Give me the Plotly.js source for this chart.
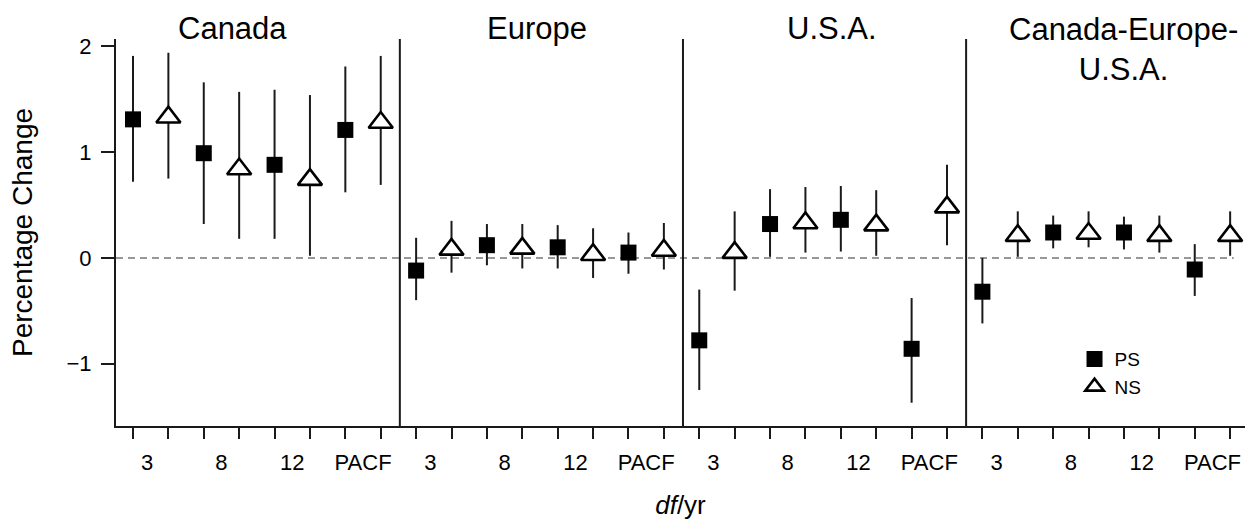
<!DOCTYPE html>
<html>
<head>
<meta charset="utf-8">
<script src="https://cdn.plot.ly/plotly-3.0.1.min.js"></script>
<style>html,body{margin:0;padding:0;background:#fff;}#chart{width:1251px;height:520px;}</style>
</head>
<body>
<div id="chart"></div>
<script>
// ---- data ----
const regions = ['Canada', 'Europe', 'U.S.A.', 'Canada-Europe-<br>U.S.A.'];
const dfLabels = ['3', '8', '12', 'PACF'];

// PS (filled squares): estimate, upper and lower limits, region by region
const psValues = [1.31, 0.99, 0.88, 1.21,  -0.12, 0.12, 0.10, 0.05,  -0.78, 0.32, 0.36, -0.86,  -0.32, 0.24, 0.24, -0.11];
const psUpper  = [1.91, 1.66, 1.59, 1.81,   0.19, 0.32, 0.31, 0.24,  -0.30, 0.65, 0.68, -0.38,   0.00, 0.40, 0.39, 0.13];
const psLower  = [0.72, 0.32, 0.18, 0.62,  -0.40, -0.07, -0.10, -0.15, -1.25, 0.01, 0.06, -1.37, -0.62, 0.09, 0.08, -0.36];

// NS (open triangles)
const nsValues = [1.33, 0.84, 0.74, 1.28,   0.08, 0.09, 0.03, 0.07,   0.05, 0.33, 0.31, 0.48,   0.21, 0.23, 0.21, 0.21];
const nsUpper  = [1.94, 1.57, 1.54, 1.91,   0.35, 0.32, 0.28, 0.33,   0.44, 0.67, 0.64, 0.88,   0.44, 0.44, 0.40, 0.44];
const nsLower  = [0.75, 0.18, 0.02, 0.69,  -0.14, -0.10, -0.19, -0.11, -0.31, 0.05, 0.02, 0.12,   0.01, 0.10, 0.05, 0.02];

const yTickVals = [-1, 0, 1, 2];

// ---- derived positions (slot index along the shared x axis) ----
const nL = dfLabels.length;
const slotsPerRegion = nL * 2;
const psX = [], nsX = [];
regions.forEach((r, ri) => dfLabels.forEach((l, li) => {
  psX.push(ri * slotsPerRegion + li * 2);
  nsX.push(ri * slotsPerRegion + li * 2 + 1);
}));
const tickPos = psX.concat(nsX).sort((a, b) => a - b);
const labelPos = [], labelText = [];
regions.forEach((r, ri) => dfLabels.forEach((l, li) => {
  labelPos.push(ri * slotsPerRegion + li * 2 + (li === 0 ? 0.4 : 0.5));
  labelText.push(l);
}));

const ink = '#1a1a1a';
const font = 'Liberation Sans, Arial, Helvetica, sans-serif';

const psTrace = {
  x: psX, y: psValues, type: 'scatter', mode: 'markers', name: 'PS',
  marker: {symbol: 'square', size: 16, color: '#000', line: {width: 0}},
  error_y: {type: 'data', symmetric: false,
    array: psUpper.map((u, i) => u - psValues[i]),
    arrayminus: psLower.map((l, i) => psValues[i] - l),
    width: 0, thickness: 2, color: ink},
  hoverinfo: 'y'
};
const nsTrace = {
  x: nsX, y: nsValues, type: 'scatter', mode: 'markers', name: 'NS',
  marker: {symbol: 'triangle-up', size: 21, color: '#fff', line: {width: 2.6, color: '#000'}},
  error_y: {type: 'data', symmetric: false,
    array: nsUpper.map((u, i) => u - nsValues[i]),
    arrayminus: nsLower.map((l, i) => nsValues[i] - l),
    width: 0, thickness: 2, color: ink},
  hoverinfo: 'y'
};

// panel titles
const titleX = [232, 537, 832, 1123];
const annotations = regions.map((r, i) => ({
  text: r, xref: 'paper', yref: 'paper',
  x: (titleX[i] - 116) / 1129, y: i === 3 ? 0.974 : 1.028,
  xanchor: 'center', yanchor: 'middle', showarrow: false,
  font: {family: font, size: 31, color: '#000'}
}));

const shapes = [
  {type: 'line', xref: 'paper', yref: 'y', x0: 0, x1: 0.99, y0: 0, y1: 0,
   line: {color: '#777', width: 1.5, dash: '7px,5px'}, layer: 'below'}
];
for (let ri = 1; ri < regions.length; ri++) {
  const xd = ri * slotsPerRegion - 0.46;
  shapes.push({type: 'line', xref: 'x', yref: 'paper', x0: xd, x1: xd, y0: 0, y1: 1,
    line: {color: ink, width: 2}});
}

const layout = {
  width: 1251, height: 520,
  margin: {l: 116, r: 6, t: 39, b: 94},
  paper_bgcolor: '#fff', plot_bgcolor: '#fff',
  font: {family: font, color: '#000'},
  showlegend: true,
  legend: {x: 0.849, y: 0.222, xanchor: 'left', yanchor: 'top',
    bgcolor: 'rgba(0,0,0,0)', font: {family: font, size: 19, color: '#000'}},
  xaxis: {
    range: [-0.48, 31.42], showgrid: false, zeroline: false,
    showline: true, linewidth: 2, linecolor: ink,
    tickmode: 'array', tickvals: labelPos, ticktext: labelText,
    ticks: '', ticklabelstandoff: 16,
    tickfont: {family: font, size: 22, color: '#000'},
    minor: {tickmode: 'array', tickvals: tickPos, ticks: 'outside', ticklen: 11,
      tickwidth: 2, tickcolor: ink, showgrid: false},
    title: {text: '<i>df</i>/yr', font: {family: font, size: 26, color: '#000'}, standoff: 22}
  },
  yaxis: {
    range: [-1.59, 2.07], showgrid: false, zeroline: false,
    showline: true, linewidth: 2, linecolor: ink,
    tickmode: 'array', tickvals: yTickVals,
    ticks: 'outside', ticklen: 13, tickwidth: 2, tickcolor: ink,
    ticklabelstandoff: 5,
    tickfont: {family: font, size: 22, color: '#000'},
    title: {text: 'Percentage Change', font: {family: font, size: 28, color: '#000'}, standoff: 26}
  },
  annotations: annotations,
  shapes: shapes
};

Plotly.newPlot('chart', [psTrace, nsTrace], layout, {displayModeBar: false, staticPlot: true});
</script>
</body>
</html>
